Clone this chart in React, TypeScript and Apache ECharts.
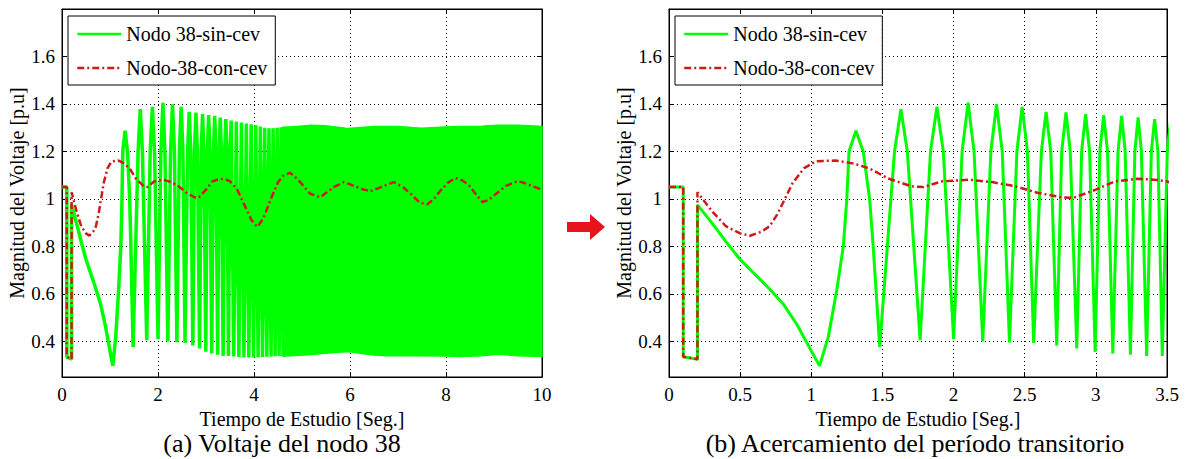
import React, { useEffect, useRef } from "react";
import * as echarts from "echarts";

// ---------------- data ----------------
const LEGEND_NAMES = ["Nodo 38-sin-cev", "Nodo-38-con-cev"];
const Y_TICKS = [0.4, 0.6, 0.8, 1, 1.2, 1.4, 1.6];

// Nodo 38 sin CEV: read extrema / shape points (time [s], voltage [p.u])
const greenT = [
  0, 0.1, 0.1, 0.2, 0.2, 0.3, 0.4, 0.5, 0.6, 0.7, 0.8, 0.9, 1.0, 1.058,
  1.12, 1.18, 1.225, 1.25, 1.265, 1.314, 1.365, 1.41, 1.435, 1.481,
  1.585, 1.63, 1.675, 1.765,
  1.838, 1.883, 1.928, 2.0,
  2.06, 2.102, 2.144, 2.205,
  2.262, 2.302, 2.342, 2.393,
  2.445, 2.482, 2.519, 2.563,
  2.617, 2.65, 2.683, 2.725,
  2.76, 2.79, 2.82, 2.866,
  2.9, 2.928, 2.956, 2.995,
  3.028, 3.055, 3.082, 3.119,
  3.156, 3.181, 3.206, 3.243,
  3.274, 3.297, 3.32, 3.357,
  3.39, 3.413, 3.436, 3.467,
  3.502, 3.525, 3.578, 3.632, 3.685, 3.738, 3.79, 3.841, 3.892, 3.941, 3.99,
  4.038, 4.085, 4.132, 4.178, 4.223, 4.268, 4.312, 4.355, 4.398, 4.44, 4.482,
  4.523, 4.564, 4.605, 4.645, 4.685, 4.725, 4.765, 4.8,
];
const greenV = [
  1.05, 1.05, 0.335, 0.325, 0.975, 0.9, 0.82, 0.745, 0.685, 0.625, 0.56, 0.47, 0.36, 0.297,
  0.42, 0.62, 0.8, 1.0, 1.2, 1.287, 1.2, 1.0, 0.8, 0.377,
  1.2, 1.378, 1.2, 0.405,
  1.2, 1.388, 1.2, 0.41,
  1.2, 1.405, 1.2, 0.4,
  1.2, 1.399, 1.2, 0.396,
  1.2, 1.388, 1.2, 0.393,
  1.2, 1.367, 1.2, 0.383,
  1.2, 1.364, 1.2, 0.37,
  1.2, 1.357, 1.2, 0.356,
  1.2, 1.353, 1.2, 0.349,
  1.2, 1.35, 1.2, 0.344,
  1.2, 1.343, 1.2, 0.339,
  1.2, 1.336, 1.2, 0.339,
  1.2, 1.33, 0.336, 1.326, 0.334, 1.322, 0.333, 1.318, 0.332, 1.314, 0.332,
  1.31, 0.333, 1.305, 0.334, 1.3, 0.335, 1.298, 0.336, 1.298, 0.337, 1.3,
  0.338, 1.302, 0.339, 1.304, 0.34, 1.305, 0.341, 1.306,
];

// Nodo 38 sin CEV after ~4.6 s: oscillation too dense to resolve -> envelope
const bandT = [4.6, 4.76, 5.2, 5.48, 5.9, 5.96, 6.36, 6.5, 6.76, 7.0, 7.48, 8.0, 8.28, 8.75, 9.07, 9.5, 10];
const bandLow = [0.338, 0.34, 0.345, 0.35, 0.356, 0.357, 0.346, 0.343, 0.339, 0.34, 0.34, 0.338, 0.336, 0.34, 0.346, 0.34, 0.336];
const bandHigh = [1.302, 1.303, 1.31, 1.308, 1.298, 1.297, 1.303, 1.305, 1.305, 1.305, 1.298, 1.303, 1.305, 1.306, 1.31, 1.31, 1.305];

// Nodo 38 con CEV
const redT = [
  0, 0.1, 0.1, 0.2, 0.2, 0.3, 0.4, 0.5, 0.57, 0.65, 0.707, 0.761, 0.869, 0.95,
  1.03, 1.166, 1.3, 1.41, 1.54, 1.705, 1.786, 1.92, 2.11, 2.27, 2.434, 2.596,
  2.758, 2.84, 3.0, 3.135, 3.297, 3.43, 3.5, 3.65, 3.8, 3.95, 4.07, 4.2, 4.35,
  4.5, 4.62, 4.75, 4.9, 5.17, 5.38, 5.66, 5.87, 5.94, 6.2, 6.42, 6.65, 6.91,
  7.1, 7.26, 7.45, 7.61, 7.75, 7.89, 8.05, 8.2, 8.35, 8.48, 8.62, 8.76, 8.88,
  9.0, 9.25, 9.49, 9.62, 9.76, 10,
];
const redV = [
  1.05, 1.05, 0.335, 0.325, 1.028, 0.95, 0.885, 0.855, 0.845, 0.862, 0.885, 0.935, 1.067, 1.13,
  1.158, 1.162, 1.149, 1.128, 1.086, 1.053, 1.05, 1.074, 1.081, 1.071, 1.053, 1.025,
  1.007, 1.004, 1.039, 1.074, 1.085, 1.08, 1.074, 1.04, 0.975, 0.91, 0.882, 0.92, 1.0,
  1.07, 1.1, 1.11, 1.085, 1.022, 1.007, 1.05, 1.071, 1.067, 1.045, 1.032, 1.05, 1.071,
  1.05, 1.022, 0.985, 0.977, 1.0, 1.036, 1.07, 1.088, 1.077, 1.057, 1.02, 0.987, 0.995,
  1.015, 1.055, 1.075, 1.068, 1.057, 1.039,
];

const X_RANGES = [
  { max: 10, interval: 2 },
  { max: 3.5, interval: 0.5 },
];

// ---------------- styles ----------------
const FONT = "Liberation Serif, serif";
const GREEN = "#00ff00";
const RED = "#cc1a1a";
const GREEN_WIDTH = [3.5, 3];

const greenData = greenT.map((t, i) => [t, greenV[i]]);
const redData = redT.map((t, i) => [t, redV[i]]);

function buildOption() {
  const grids = [
    { left: 62, top: 9, width: 480, height: 368 },
    { left: 669, top: 9, width: 498, height: 368 },
  ].map((g) => ({ ...g, show: true, borderColor: "#000", borderWidth: 1, backgroundColor: "#fff" }));

  const xAxis: any[] = [];
  const yAxis: any[] = [];
  const series: any[] = [];

  X_RANGES.forEach((r, gi) => {
    xAxis.push({
      type: "value",
      gridIndex: gi,
      min: 0,
      max: r.max,
      interval: r.interval,
      position: "bottom",
      axisLine: { show: true, onZero: false, lineStyle: { color: "#000", width: 1 } },
      axisTick: { show: true, inside: true, length: 5, lineStyle: { color: "#000" } },
      axisLabel: { color: "#000", fontSize: 19, fontFamily: FONT, margin: 8, showMinLabel: true, showMaxLabel: true },
      splitLine: { show: true, lineStyle: { color: "#000", width: 1, type: [1, 3] } },
      name: "Tiempo de Estudio [Seg.]",
      nameLocation: "middle",
      nameGap: 25,
      nameTextStyle: { color: "#000", fontSize: 20, fontFamily: FONT, lineHeight: 20 },
    });
    xAxis.push({
      type: "value",
      gridIndex: gi,
      min: 0,
      max: r.max,
      interval: r.interval,
      position: "top",
      axisLine: { show: true, onZero: false, lineStyle: { color: "#000", width: 1 } },
      axisTick: { show: true, inside: true, length: 5, lineStyle: { color: "#000" } },
      axisLabel: { show: false },
      splitLine: { show: false },
    });
    yAxis.push({
      type: "value",
      gridIndex: gi,
      min: 0.25,
      max: 1.8,
      position: "left",
      axisLine: { show: true, onZero: false, lineStyle: { color: "#000", width: 1 } },
      axisTick: { show: true, inside: true, length: 5, customValues: Y_TICKS, lineStyle: { color: "#000" } },
      axisLabel: { customValues: Y_TICKS, color: "#000", fontSize: 19, fontFamily: FONT, margin: 7 },
      splitLine: { show: true, lineStyle: { color: "#000", width: 1, type: [1, 3] } },
      name: "Magnitud del Voltaje [p.u]",
      nameLocation: "middle",
      nameGap: 32,
      nameTextStyle: { color: "#000", fontSize: 20, fontFamily: FONT },
    });
    yAxis.push({
      type: "value",
      gridIndex: gi,
      min: 0.25,
      max: 1.8,
      position: "right",
      axisLine: { show: true, onZero: false, lineStyle: { color: "#000", width: 1 } },
      axisTick: { show: true, inside: true, length: 5, customValues: Y_TICKS, lineStyle: { color: "#000" } },
      axisLabel: { show: false },
      splitLine: { show: false },
    });

    const ax = gi * 2;
    series.push({
      name: LEGEND_NAMES[0],
      type: "line",
      xAxisIndex: ax,
      yAxisIndex: ax,
      data: greenData,
      symbol: "none",
      showSymbol: false,
      clip: true,
      z: 2,
      lineStyle: { color: GREEN, width: GREEN_WIDTH[gi] },
      itemStyle: { color: GREEN },
    });
    if (gi === 0) {
      series.push({
        name: "band",
        type: "custom",
        xAxisIndex: ax,
        yAxisIndex: ax,
        data: [[bandT[0], bandLow[0]]],
        silent: true,
        z: 2,
        renderItem: (params: any, api: any) => {
          if (params.dataIndex !== 0) return null;
          const top = bandT.map((t, i) => api.coord([t, bandHigh[i]]));
          const bottom = bandT.map((t, i) => api.coord([t, bandLow[i]])).reverse();
          return {
            type: "polygon",
            shape: { points: top.concat(bottom) },
            style: { fill: GREEN, stroke: GREEN, lineWidth: 1.5 },
          };
        },
      });
    }
    series.push({
      name: LEGEND_NAMES[1],
      type: "line",
      xAxisIndex: ax,
      yAxisIndex: ax,
      data: redData,
      symbol: "none",
      showSymbol: false,
      clip: true,
      z: 3,
      lineStyle: { color: RED, width: 2.5, type: [7, 3, 2, 3] },
      itemStyle: { color: RED },
    });
  });

  const legendBase = {
    orient: "vertical",
    top: 16,
    data: LEGEND_NAMES,
    backgroundColor: "#fff",
    borderColor: "#000",
    borderWidth: 1,
    borderRadius: 0,
    padding: [8, 8, 7, 8],
    itemGap: 14,
    itemWidth: 44,
    itemHeight: 14,
    selectedMode: false,
    itemStyle: { color: "transparent", borderColor: "transparent", borderWidth: 0, opacity: 0 },
    lineStyle: { width: 2.5 },
    textStyle: { fontSize: 20, fontFamily: FONT, color: "#000", lineHeight: 20 },
  };

  return {
    animation: false,
    backgroundColor: "#fff",
    textStyle: { fontFamily: FONT, color: "#000" },
    grid: grids,
    xAxis,
    yAxis,
    series,
    legend: [
      { ...legendBase, left: 68 },
      { ...legendBase, left: 675 },
    ],
    graphic: [
      {
        type: "polygon",
        shape: { points: [[567, 222], [590, 222], [590, 214], [605, 227], [590, 240], [590, 232], [567, 232]] },
        style: { fill: "#e8141b" },
      },
      {
        type: "text",
        x: 282,
        y: 443,
        style: { text: "(a) Voltaje del nodo 38", fontSize: 26, fontFamily: FONT, fill: "#000", align: "center", verticalAlign: "middle", lineHeight: 26 },
      },
      {
        type: "text",
        x: 915,
        y: 443,
        style: { text: "(b) Acercamiento del período transitorio", fontSize: 26, fontFamily: FONT, fill: "#000", align: "center", verticalAlign: "middle", lineHeight: 26 },
      },
    ],
  };
}

export default function App() {
  const ref = useRef<HTMLDivElement>(null);
  useEffect(() => {
    if (!ref.current) return;
    const chart = echarts.init(ref.current, undefined, { renderer: "svg" });
    chart.setOption(buildOption() as any);
    return () => chart.dispose();
  }, []);
  return (
    <div
      ref={ref}
      style={{ position: "absolute", left: 0, top: 0, width: 1186, height: 459, background: "#fff" }}
    />
  );
}
